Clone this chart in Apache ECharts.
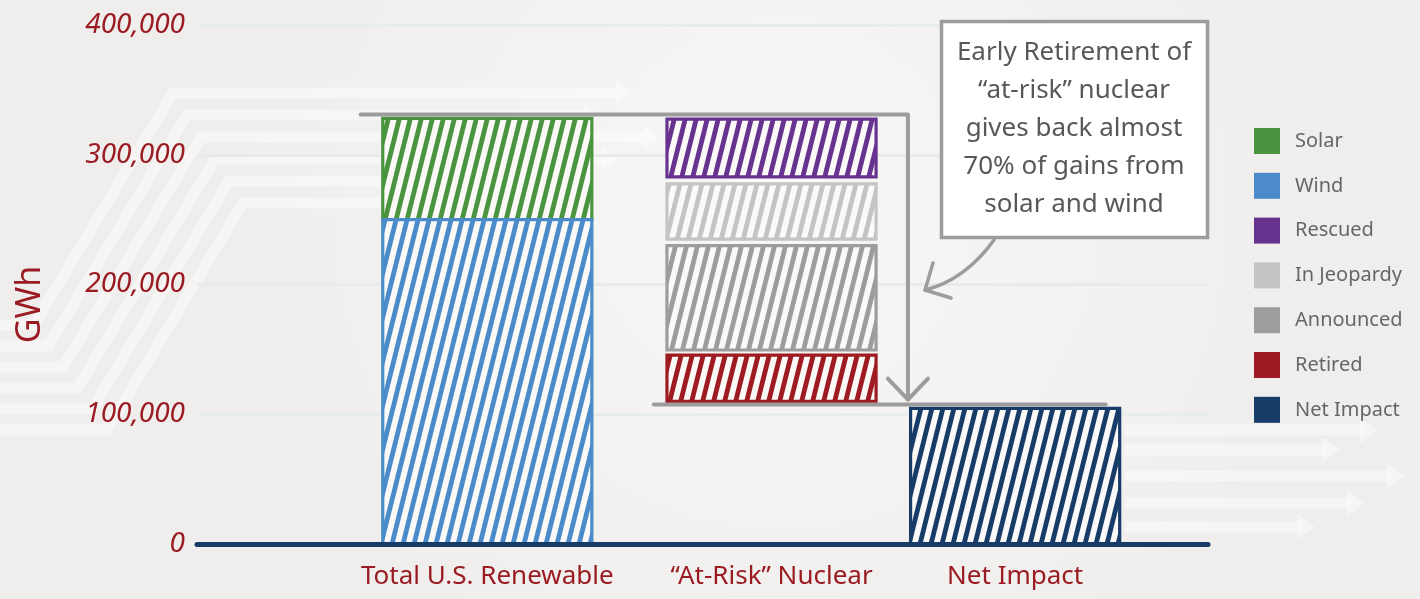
<!DOCTYPE html>
<html><head><meta charset="utf-8">
<script src="https://cdn.jsdelivr.net/npm/echarts@6/dist/echarts.min.js"></script>
<style>html,body{margin:0;padding:0;width:1420px;height:599px;overflow:hidden;background:#f3f1ef}#c{width:1420px;height:599px}</style>
</head><body><div id="c"></div><script>
// ---------- data ----------
const categories = ['Total U.S. Renewable', '“At-Risk” Nuclear', 'Net Impact'];
const windRange = [0, 250000];
const solarRange = [250000, 328000];
const rescuedRange = [283000, 327500];
const inJeopardyRange = [235000, 277500];
const announcedRange = [149500, 230000];
const retiredRange = [110000, 145500];
const netImpactRange = [0, 104500];
const yTicks = [0, 100000, 200000, 300000, 400000];
const renewableLevel = 331000;   // connector line level (total renewable)
const netLevel = 107500;         // connector line level (net impact)
const calloutLines = ['Early Retirement of', '“at-risk” nuclear', 'gives back almost', '70% of gains from', 'solar and wind'];

// ---------- layout / style ----------
const layout = { catPos: [0, 7, 13], barWidth: 5.15, xMin: -7.15, xMax: 17.75,
  top: { from: -3.12, to: 10.36 }, net: { from: 4.1, to: 15.23 } };
const RED = '#9b1b22';
const FONT = "'Noto Sans', 'Open Sans', sans-serif";
const colors = { Solar: '#4a9440', Wind: '#4b8bc9', Rescued: '#683290', 'In Jeopardy': '#c4c4c4',
  Announced: '#9d9d9d', Retired: '#9f1b22', 'Net Impact': '#173c68' };

function hatch(color) {
  const p = 11, k = 4, h = p * k;
  const c = document.createElement('canvas'); c.width = p; c.height = h;
  const g = c.getContext('2d');
  g.fillStyle = '#fbfaf8'; g.fillRect(0, 0, p, h);
  g.strokeStyle = color; g.lineWidth = 4.8; g.lineCap = 'square';
  for (const off of [-p, 0, p]) {
    g.beginPath();
    g.moveTo(off - 0.5 * p, h + 0.5 * h);
    g.lineTo(off + 1.5 * p, -0.5 * h);
    g.stroke();
  }
  return c;
}

function segSeries(name, catIndex, range) {
  const color = colors[name];
  const pat = hatch(color);
  return {
    name, type: 'custom', silent: true, z: 3,
    itemStyle: { color },
    data: [[layout.catPos[catIndex], range[0], range[1]]],
    renderItem(params, api) {
      const x = api.value(0), lo = api.value(1), hi = api.value(2);
      const pHi = api.coord([x, hi]), pLo = api.coord([x, lo]);
      const w = api.size([layout.barWidth, 0])[0];
      return { type: 'rect',
        shape: { x: pHi[0] - w / 2, y: pHi[1], width: w, height: pLo[1] - pHi[1] },
        style: { fill: { image: pat, repeat: 'repeat' }, stroke: color, lineWidth: 3.2 } };
    }
  };
}

const connectorSeries = {
  type: 'custom', silent: true, z: 4, name: 'connectors',
  data: [[renewableLevel, netLevel]],
  renderItem(params, api) {
    const topY = api.coord([0, api.value(0)])[1];
    const netY = api.coord([0, api.value(1)])[1];
    const a = api.coord([layout.top.from, 0])[0], b = api.coord([layout.top.to, 0])[0];
    const c = api.coord([layout.net.from, 0])[0], d = api.coord([layout.net.to, 0])[0];
    const tip = netY - 5;
    const st = { stroke: '#9c9c9c', lineWidth: 4, fill: null, lineCap: 'round', lineJoin: 'round' };
    return { type: 'group', children: [
      { type: 'polyline', shape: { points: [[a, topY], [b, topY], [b, tip]] }, style: st },
      { type: 'polyline', shape: { points: [[b - 20, tip - 21], [b, tip], [b + 20, tip - 21]] }, style: st },
      { type: 'line', shape: { x1: c, y1: netY, x2: d, y2: netY }, style: st }
    ] };
  }
};

// decorative background arrows
const deco = [];
const bandColor = 'rgba(255,255,255,0.42)';
const bandStyle = { stroke: bandColor, lineWidth: 11, fill: null };
const leftTips = [632, 600, 660, 618, 560, 520];
for (let i = 0; i < 6; i++) {
  const yT = 93 + i * 22, xT = 173 + i * 14, yB = 325 + i * 21, xB = xT - (yB - yT) * 0.6;
  const tip = leftTips[i];
  deco.push({ type: 'polyline', z: -10, silent: true, shape: { points: [[tip - 14, yT], [xT, yT], [xB, yB], [0, yB]] }, style: bandStyle });
  deco.push({ type: 'polygon', z: -10, silent: true, shape: { points: [[tip - 16, yT - 12], [tip, yT], [tip - 16, yT + 12]] }, style: { fill: bandColor } });
}
const rightBands = [[430, 1378], [450, 1340], [476, 1405], [503, 1365], [527, 1315]];
for (const [y, tip] of rightBands) {
  deco.push({ type: 'line', z: -10, silent: true, shape: { x1: 1125, y1: y, x2: tip - 14, y2: y }, style: bandStyle });
  deco.push({ type: 'polygon', z: -10, silent: true, shape: { points: [[tip - 18, y - 13], [tip, y], [tip - 18, y + 13]] }, style: { fill: bandColor } });
}

// callout
const callout = [
  { type: 'rect', z: 50, silent: true, shape: { x: 941.5, y: 21.5, width: 266, height: 216 },
    style: { fill: '#ffffff', stroke: '#9c9c9c', lineWidth: 3.5 } },
  { type: 'bezierCurve', z: 50, silent: true, shape: { x1: 994, y1: 240, cpx1: 965, cpy1: 280, x2: 925, y2: 290 },
    style: { stroke: '#9c9c9c', lineWidth: 3.5, fill: null, lineCap: 'round' } },
  { type: 'polyline', z: 50, silent: true, shape: { points: [[933, 263], [925, 290], [951, 298]] },
    style: { stroke: '#9c9c9c', lineWidth: 3.5, fill: null, lineCap: 'round', lineJoin: 'round' } }
];
calloutLines.forEach((t, i) => callout.push({ type: 'text', z: 51, silent: true, x: 1074, y: 53 + i * 38,
  style: { text: t, fill: '#585858', font: '26px ' + FONT, align: 'center', verticalAlign: 'middle' } }));

const chart = echarts.init(document.getElementById('c'), null, { renderer: 'canvas' });
chart.setOption({
  animation: false,
  backgroundColor: { type: 'radial', x: 0.55, y: 0.35, r: 0.9,
    colorStops: [{ offset: 0, color: '#f8f7f5' }, { offset: 1, color: '#efeeec' }] },
  grid: { left: 197, right: 212, top: 25, bottom: 55 },
  legend: { orient: 'vertical', left: 1249, top: 123, itemWidth: 26, itemHeight: 26, itemGap: 18.8,
    icon: 'rect', selectedMode: false,
    data: ['Solar', 'Wind', 'Rescued', 'In Jeopardy', 'Announced', 'Retired', 'Net Impact'],
    textStyle: { color: '#666', fontSize: 20, fontFamily: FONT, padding: [0, 0, 0, 10] } },
  xAxis: { type: 'value', min: layout.xMin, max: layout.xMax, z: 10,
    axisLine: { show: true, lineStyle: { color: '#173c68', width: 5 } },
    axisTick: { show: false }, splitLine: { show: false },
    axisLabel: { customValues: layout.catPos, margin: 20, color: RED, fontSize: 26, fontFamily: FONT,
      formatter: v => { const i = layout.catPos.indexOf(v); return i >= 0 ? categories[i] : ''; } } },
  yAxis: { type: 'value', min: yTicks[0], max: yTicks[yTicks.length - 1], interval: yTicks[1] - yTicks[0],
    name: 'GWh', nameLocation: 'middle', nameRotate: 90, nameGap: 150,
    nameTextStyle: { color: RED, fontSize: 34, fontFamily: FONT, padding: [0, 40, 0, 0] },
    axisLine: { show: false }, axisTick: { show: false },
    splitLine: { lineStyle: { color: '#e8ebec', width: 3 } },
    axisLabel: { margin: 12, color: RED, fontSize: 28, fontStyle: 'italic', fontFamily: FONT,
      formatter: v => v.toLocaleString('en-US') } },
  series: [
    segSeries('Solar', 0, solarRange),
    segSeries('Wind', 0, windRange),
    segSeries('Rescued', 1, rescuedRange),
    segSeries('In Jeopardy', 1, inJeopardyRange),
    segSeries('Announced', 1, announcedRange),
    segSeries('Retired', 1, retiredRange),
    segSeries('Net Impact', 2, netImpactRange),
    connectorSeries
  ],
  graphic: { elements: deco.concat(callout) }
});
</script></body></html>
